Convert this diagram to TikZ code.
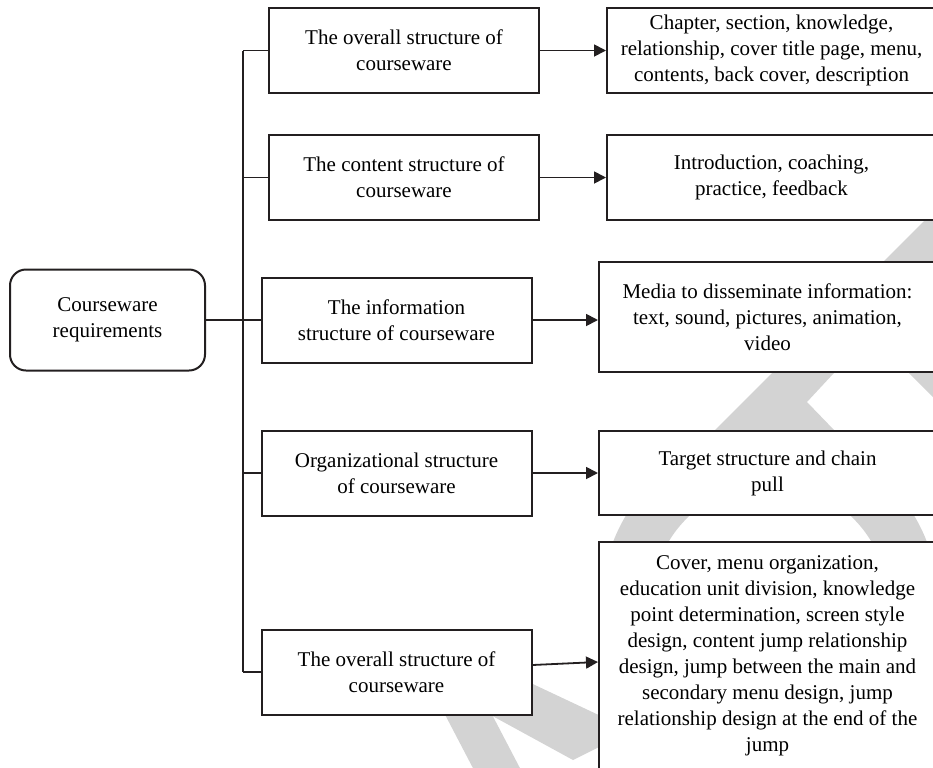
\documentclass[tikz,border=0pt]{standalone}
\usepackage{fontspec}
\setmainfont{Liberation Serif}
\usetikzlibrary{arrows.meta,positioning}
\definecolor{ink}{RGB}{35,31,32}
\definecolor{wmgray}{RGB}{211,211,211}

\begin{document}
\begin{tikzpicture}
[
	x=0.5pt,y=-0.5pt,
	box/.style={rectangle,draw=ink,line width=1pt,fill=white,align=center,inner sep=0pt,font={\fontsize{10.5}{13}\selectfont}},
	rootbox/.style={box,rounded corners=8pt,minimum width=97.5pt,minimum height=50.5pt},
	midbox/.style={box,minimum width=135pt,minimum height=42.5pt},
	sidebox/.style={box,minimum width=168.5pt},
	link/.style={draw=ink,line width=0.9pt},
	arrow/.style={link,-{Triangle[length=6pt,width=6pt]}},
]
	\useasboundingbox (0,0) rectangle (933,767);
	\clip (0,0) rectangle (933,767);

	\begin{scope}[fill=wmgray]
		\fill (933,212) -- (690,455) -- (859,455) -- (835,431) -- (807,402) -- (833,374) -- (871,336) -- (910,374) -- (933,397) -- cycle;
		\fill[even odd rule] (770,602) circle[radius=168] (770,602) circle[radius=118];
		\fill (440,705) -- (487,705) -- (522,772) -- (475,772) -- cycle;
		\fill (520,678) -- (605,718) -- (605,744) -- (573,760) -- (487,713) -- cycle;
	\end{scope}

	\node[rootbox] (req) at (107.5,320) {Courseware\\requirements};

	\node[midbox] (m1) at (404,50.5) {The overall structure of\\courseware};
	\node[midbox] (m2) at (404,177.5) {The content structure of\\courseware};
	\node[midbox] (m3) at (396.5,320) {The information\\structure of courseware};
	\node[midbox] (m4) at (396.5,473) {Organizational structure\\of courseware};
	\node[midbox] (m5) at (396.5,672) {The overall structure of\\courseware};

	\node[sidebox,minimum width=164.5pt,minimum height=42.5pt] (r1) at (771.5,50.5) {Chapter, section, knowledge,\\relationship, cover title page, menu,\\contents, back cover, description};
	\node[sidebox,minimum width=164.5pt,minimum height=42.5pt] (r2) at (771.5,177.5) {Introduction, coaching,\\practice, feedback};
	\node[sidebox,minimum height=55pt] (r3) at (767.5,317) {Media to disseminate information:\\text, sound, pictures, animation,\\video};
	\node[sidebox,minimum height=42pt] (r4) at (767.5,473) {Target structure and chain\\pull};
	\node[sidebox,minimum height=114pt] (r5) at (767.5,656) {Cover, menu organization,\\education unit division, knowledge\\point determination, screen style\\design, content jump relationship\\design, jump between the main and\\secondary menu design, jump\\relationship design at the end of the\\jump};

	\coordinate (spine) at (243,0);
	\draw[link] (spine |- m1.west) -- (spine |- m5.west);
	\foreach \i in {1,...,5}
		\draw[link] (spine |- m\i.west) -- (m\i.west);
	\draw[link] (req.east) -- (spine |- req.east);

	\foreach \i in {1,...,4}
		\draw[arrow] (m\i.east) -- (r\i.west |- m\i.east);
	\draw[arrow] ([yshift=3.5pt]m5.east) -- ([yshift=-3pt]r5.west);
\end{tikzpicture}
\end{document}
